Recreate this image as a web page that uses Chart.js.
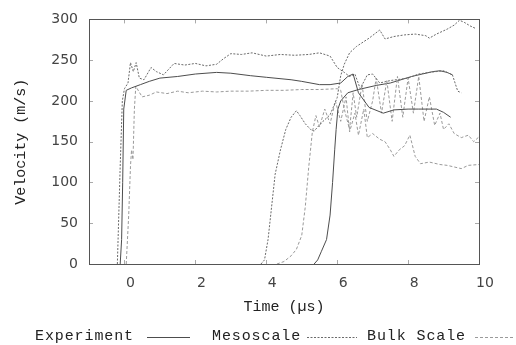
<!DOCTYPE html>
<html>
<head>
<meta charset="utf-8">
<script src="https://cdn.jsdelivr.net/npm/chart.js@4/dist/chart.umd.min.js"></script>
<style>
  body { margin: 0; background: #fff; }
  #wrap { position: relative; width: 516px; height: 345px; }
  .lg { position: absolute; top: 328px; font: 15px "Liberation Mono", monospace; letter-spacing: 0.9px; color: #222; white-space: nowrap; }
  .sm { position: absolute; top: 336px; }
</style>
</head>
<body>
<div id="wrap">
  <canvas id="velocityChart" width="516" height="345"></canvas>
  <span class="lg" style="left:35px">Experiment</span>
  <svg class="sm" style="left:147px" width="43" height="3"><line x1="0" y1="1.5" x2="43" y2="1.5" stroke="#4d4d4d" stroke-width="1"/></svg>
  <span class="lg" style="left:212px">Mesoscale</span>
  <svg class="sm" style="left:307px" width="50" height="3"><line x1="0" y1="1.5" x2="50" y2="1.5" stroke="#6a6a6a" stroke-width="1" stroke-dasharray="2,1.5"/></svg>
  <span class="lg" style="left:367px">Bulk Scale</span>
  <svg class="sm" style="left:475px" width="38" height="3"><line x1="0" y1="1.5" x2="38" y2="1.5" stroke="#9a9a9a" stroke-width="1" stroke-dasharray="3,2"/></svg>
</div>
<script>
// tick labels
const xTicks = [0, 2, 4, 6, 8, 10];
const yTicks = [0, 50, 100, 150, 200, 250, 300];

// gauge 1 (arrival near t = 0)
const exp1T = [-0.12, -0.08, -0.05, -0.02, 0.05, 0.2, 0.45, 0.7, 1.0, 1.5, 2.0, 2.6, 3.0, 3.55, 4.0, 4.7, 5.0, 5.5, 5.8, 6.1, 6.3, 6.45, 6.6, 6.9, 7.3, 7.6, 8.0, 8.3, 8.8, 9.0, 9.2];
const exp1V = [0, 30, 100, 190, 213, 216, 220, 224, 228, 230, 233, 235, 234, 231, 229, 226, 224, 220, 220, 222, 230, 233, 210, 192, 185, 189, 190, 190, 190, 186, 180];

const mes1T = [-0.2, -0.12, -0.06, 0.0, 0.1, 0.17, 0.25, 0.33, 0.42, 0.55, 0.75, 0.9, 1.1, 1.4, 1.7, 2.0, 2.3, 2.6, 2.8, 3.0, 3.3, 3.6, 4.0, 4.4, 4.8, 5.2, 5.5, 5.8, 6.0, 6.2, 6.35, 6.5, 6.65, 6.85, 7.0, 7.2, 7.5, 8.0, 8.3, 8.6, 9.0, 9.25, 9.4, 9.5];
const mes1V = [0, 120, 200, 215, 222, 247, 236, 247, 228, 226, 241, 236, 232, 246, 244, 246, 243, 245, 252, 258, 257, 259, 255, 257, 256, 257, 259, 255, 241, 235, 230, 233, 215, 232, 233, 222, 225, 228, 233, 235, 237, 232, 212, 210];

const bulk1T = [0.05, 0.12, 0.17, 0.2, 0.24, 0.28, 0.32, 0.4, 0.5, 0.7, 0.9, 1.2, 1.5, 1.8, 2.2, 2.6, 3.0, 3.5, 4.0, 4.5, 5.0, 5.5, 6.0, 6.1, 6.2, 6.35, 6.45, 6.55, 6.7, 6.85, 7.0, 7.1, 7.25, 7.4, 7.55, 7.7, 7.85, 8.0, 8.15, 8.3, 8.45, 8.6, 8.75, 8.9, 9.0, 9.15, 9.3, 9.5, 9.7, 9.85, 10.0];
const bulk1V = [0, 60, 120, 140, 128, 190, 218, 212, 205, 207, 211, 209, 212, 210, 212, 211, 212, 212, 213, 213, 214, 214, 215, 213, 190, 165, 210, 180, 220, 175, 200, 228, 185, 225, 175, 230, 180, 228, 185, 230, 175, 205, 170, 185, 165, 172, 160, 155, 158, 150, 156];

// gauge 2 (arrival near t = 4 - 5.5)
const exp2T = [5.35, 5.45, 5.55, 5.7, 5.8, 5.87, 5.93, 5.97, 6.02, 6.1, 6.3, 6.6, 7.1, 7.5, 7.8, 8.1, 8.4, 8.7, 8.9, 9.1, 9.25];
const exp2V = [0, 5, 15, 30, 60, 100, 140, 165, 190, 200, 210, 214, 219, 222, 226, 230, 233, 236, 237, 235, 232];

const mes2T = [3.85, 3.95, 4.05, 4.15, 4.25, 4.4, 4.55, 4.7, 4.85, 4.95, 5.1, 5.25, 5.35, 5.45, 5.6, 5.8, 6.0, 6.1, 6.2, 6.35, 6.55, 6.9, 7.2, 7.35, 7.6, 7.9, 8.2, 8.5, 8.6, 8.8, 9.1, 9.3, 9.45, 9.6, 9.75, 9.9];
const mes2V = [0, 5, 30, 70, 110, 140, 165, 180, 188, 182, 172, 165, 163, 168, 175, 183, 204, 231, 245, 259, 267, 277, 287, 276, 279, 281, 282, 280, 277, 282, 288, 293, 299, 296, 292, 289];

const bulk2T = [4.3, 4.5, 4.7, 4.85, 5.0, 5.1, 5.2, 5.3, 5.4, 5.5, 5.65, 5.8, 5.95, 6.1, 6.25, 6.35, 6.5, 6.6, 6.75, 6.85, 7.0, 7.2, 7.35, 7.5, 7.6, 7.75, 7.9, 8.05, 8.2, 8.35, 8.6, 8.9, 9.1, 9.3, 9.5, 9.7, 10.0];
const bulk2V = [0, 3, 10, 18, 35, 70, 120, 162, 182, 168, 190, 172, 200, 175, 205, 162, 185, 158, 190, 155, 160, 153, 150, 140, 132, 140, 145, 158, 132, 123, 125, 122, 121, 119, 117, 121, 122];

function toPoints(t, v) {
  return t.map((x, i) => ({ x: x, y: v[i] }));
}

const expStyle = { borderColor: "#4d4d4d", borderWidth: 1 };
const mesStyle = { borderColor: "#6a6a6a", borderWidth: 1, borderDash: [2, 1.5] };
const bulkStyle = { borderColor: "#9a9a9a", borderWidth: 1, borderDash: [3, 2] };

// frame around the plot with small inward ticks
const framePlugin = {
  id: "frame",
  afterDraw(chart) {
    const { ctx, chartArea: a, scales } = chart;
    ctx.save();
    ctx.strokeStyle = "#aaa";
    ctx.lineWidth = 1;
    ctx.beginPath();
    xTicks.forEach(v => {
      const px = Math.round(scales.x.getPixelForValue(v)) + 0.5;
      ctx.moveTo(px, a.bottom); ctx.lineTo(px, a.bottom - 4);
      ctx.moveTo(px, a.top); ctx.lineTo(px, a.top + 4);
    });
    yTicks.forEach(v => {
      const py = Math.round(scales.y.getPixelForValue(v)) + 0.5;
      ctx.moveTo(a.left, py); ctx.lineTo(a.left + 4, py);
      ctx.moveTo(a.right, py); ctx.lineTo(a.right - 4, py);
    });
    ctx.stroke();
    ctx.strokeStyle = "#555";
    ctx.strokeRect(Math.round(a.left) + 0.5, Math.round(a.top) + 0.5, Math.round(a.right - a.left), Math.round(a.bottom - a.top));
    ctx.restore();
  }
};

const tickFont = { family: "DejaVu Sans", size: 14 };
const titleFont = { family: "Liberation Mono", size: 15 };

new Chart(document.getElementById("velocityChart"), {
  type: "line",
  data: {
    datasets: [
      { label: "Experiment", data: toPoints(exp1T, exp1V), ...expStyle },
      { label: "Mesoscale", data: toPoints(mes1T, mes1V), ...mesStyle },
      { label: "Bulk Scale", data: toPoints(bulk1T, bulk1V), ...bulkStyle },
      { label: "Experiment", data: toPoints(exp2T, exp2V), ...expStyle },
      { label: "Mesoscale", data: toPoints(mes2T, mes2V), ...mesStyle },
      { label: "Bulk Scale", data: toPoints(bulk2T, bulk2V), ...bulkStyle }
    ]
  },
  options: {
    responsive: false,
    animation: false,
    devicePixelRatio: 1,
    layout: { padding: { top: 16, right: 37, left: 0, bottom: 0 } },
    elements: { point: { radius: 0 }, line: { tension: 0 } },
    plugins: { legend: { display: false }, tooltip: { enabled: false } },
    scales: {
      x: {
        type: "linear",
        min: -1,
        max: 10,
        afterBuildTicks: s => { s.ticks = xTicks.map(v => ({ value: v })); },
        afterFit: s => { s.height = 81; },
        grid: { display: false, drawTicks: false },
        border: { display: false },
        ticks: { font: tickFont, color: "#444", padding: 11, labelOffset: 6, maxRotation: 0 },
        title: { display: true, text: "Time (\u00b5s)", font: titleFont, color: "#222", padding: { top: 0, bottom: 29 } }
      },
      y: {
        min: 0,
        max: 300,
        afterBuildTicks: s => { s.ticks = yTicks.map(v => ({ value: v })); },
        afterFit: s => { s.width = 89; },
        grid: { display: false, drawTicks: false },
        border: { display: false },
        ticks: { font: tickFont, color: "#444", padding: 11 },
        title: { display: true, text: "Velocity (m/s)", font: titleFont, color: "#222", padding: { top: 12, bottom: 0 } }
      }
    }
  },
  plugins: [framePlugin]
});
</script>
</body>
</html>
